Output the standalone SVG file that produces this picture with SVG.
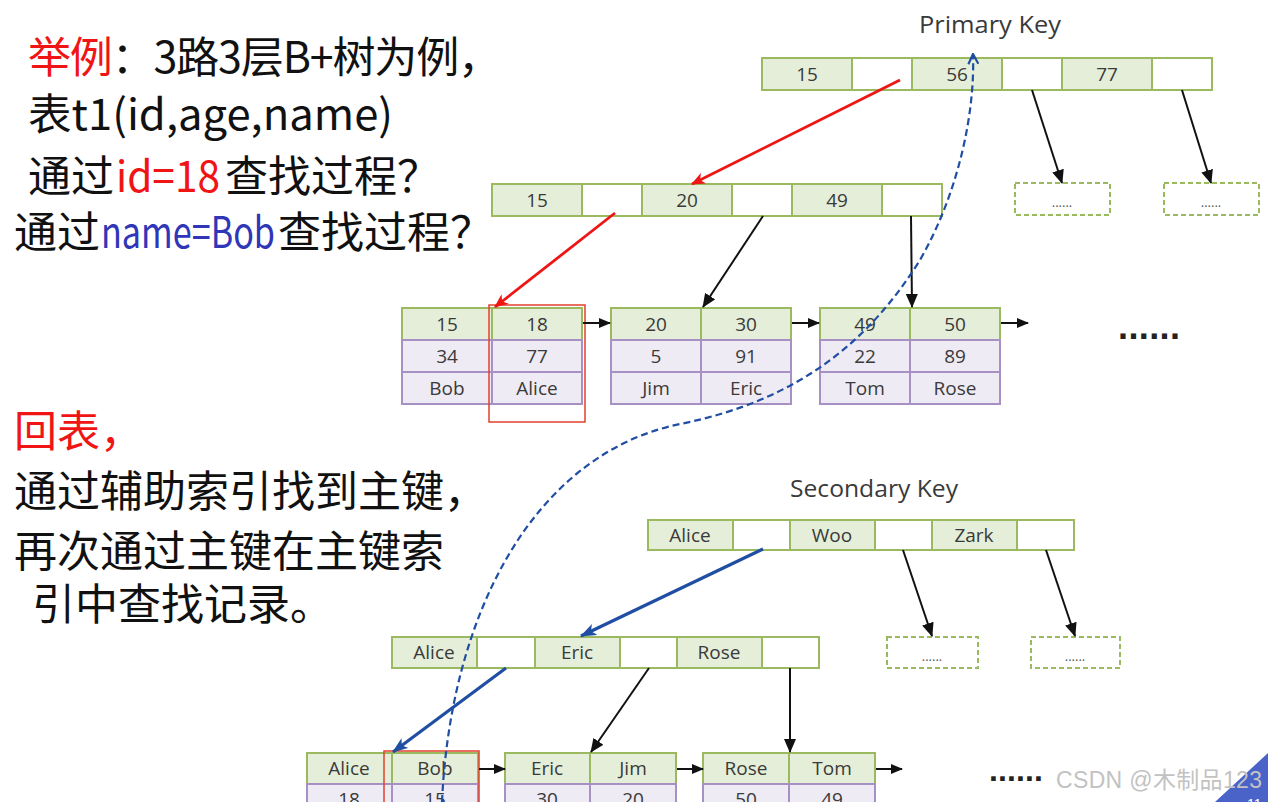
<svg xmlns="http://www.w3.org/2000/svg" width="1268" height="802" viewBox="0 0 1268 802">
<style>
.k{fill:#e5eed8;stroke:#9bba5f;stroke-width:2}
.e{fill:#ffffff;stroke:#9bba5f;stroke-width:2}
.d{fill:#efebf4;stroke:#a690c4;stroke-width:2}
.dash{fill:#ffffff;stroke:#9bba5f;stroke-width:2;stroke-dasharray:5 3}
.t{font-family:"Open Sans","Noto Sans",sans-serif;font-size:19px;fill:#3a3a3a;text-anchor:middle}
.h{font-family:"Open Sans","Noto Sans",sans-serif;font-size:24px;fill:#3a3a3a;text-anchor:middle}
.sd{font-family:"Open Sans","Noto Sans",sans-serif;font-size:13px;fill:#555;text-anchor:middle}
.dots{font-family:"Liberation Sans",Arial,sans-serif;font-weight:bold;fill:#222}
.cn{font-family:"Noto Sans CJK SC","Noto Sans",sans-serif;font-size:43px;fill:#111}
.red{fill:#f01414}
.blu{fill:#3036b8}
.ab{stroke:#111;stroke-width:2;fill:none}
.ar{stroke:#ee1515;stroke-width:2.8;fill:none}
.abl{stroke:#1f4ea3;stroke-width:3.2;fill:none}
.curve{fill:none;stroke:#1f4ea3;stroke-width:2.2;stroke-dasharray:7 4}
.rb{fill:none;stroke:#e2412c;stroke-width:1.5}
</style>
<defs>
<marker id="mk" viewBox="0 0 14 12" refX="13" refY="6" markerWidth="14" markerHeight="12" markerUnits="userSpaceOnUse" orient="auto"><path d="M0,0 L14,6 L0,12 z" fill="#111"/></marker>
<marker id="ms" viewBox="0 0 12 10" refX="11" refY="5" markerWidth="12" markerHeight="10" markerUnits="userSpaceOnUse" orient="auto"><path d="M0,0 L12,5 L0,10 z" fill="#111"/></marker>
<marker id="mr" viewBox="0 0 14 12" refX="13" refY="6" markerWidth="14" markerHeight="12" markerUnits="userSpaceOnUse" orient="auto"><path d="M0,0 L14,6 L0,12 L4,6 z" fill="#ee1515"/></marker>
<marker id="mb" viewBox="0 0 16 12" refX="15" refY="6" markerWidth="16" markerHeight="12" markerUnits="userSpaceOnUse" orient="auto"><path d="M0,0 L16,6 L0,12 L4,6 z" fill="#1f4ea3"/></marker>
<marker id="mo" viewBox="0 0 12 12" refX="11" refY="6" markerWidth="12" markerHeight="12" markerUnits="userSpaceOnUse" orient="auto"><path d="M1,1 L11,6 L1,11" fill="none" stroke="#1f4ea3" stroke-width="2.2"/></marker>
</defs>
<rect width="1268" height="802" fill="#ffffff"/>

<g id="left-text">
<text class="cn" x="28" y="73" textLength="473" lengthAdjust="spacing"><tspan class="red">举例</tspan>：3路3层B+树为例，</text>
<text class="cn" x="28" y="130" textLength="365" lengthAdjust="spacingAndGlyphs">表t1(id,age,name)</text>
<text class="cn" x="28" y="192">通过</text>
<text class="cn red" x="116" y="192" textLength="104" lengthAdjust="spacingAndGlyphs">id=18</text>
<text class="cn" x="225" y="192">查找过程？</text>
<text class="cn" x="14" y="248">通过</text>
<text class="cn blu" x="101" y="248" textLength="174" lengthAdjust="spacingAndGlyphs">name=Bob</text>
<text class="cn" x="278" y="248">查找过程？</text>
<text class="cn red" x="14" y="447">回表，</text>
<text class="cn" x="14" y="507">通过辅助索引找到主键，</text>
<text class="cn" x="14" y="567">再次通过主键在主键索</text>
<text class="cn" x="32" y="620">引中查找记录。</text>
</g>

<text class="h" x="990" y="33" textLength="142" lengthAdjust="spacingAndGlyphs">Primary Key</text>
<text class="h" x="874" y="497" textLength="168" lengthAdjust="spacingAndGlyphs">Secondary Key</text>

<g id="pk-root">
<rect class="k" x="762" y="58" width="90" height="32"/><rect class="e" x="852" y="58" width="60" height="32"/>
<rect class="k" x="912" y="58" width="90" height="32"/><rect class="e" x="1002" y="58" width="60" height="32"/>
<rect class="k" x="1062" y="58" width="90" height="32"/><rect class="e" x="1152" y="58" width="60" height="32"/>
<text class="t" x="807" y="81">15</text><text class="t" x="957" y="81">56</text><text class="t" x="1107" y="81">77</text>
</g>
<g id="pk-more1"><rect class="dash" x="1015" y="183" width="95" height="32"/><text class="sd" x="1062" y="207">......</text></g>
<g id="pk-more2"><rect class="dash" x="1164" y="183" width="95" height="32"/><text class="sd" x="1211" y="207">......</text></g>

<g id="pk-mid">
<rect class="k" x="492" y="184" width="90" height="32"/><rect class="e" x="582" y="184" width="60" height="32"/>
<rect class="k" x="642" y="184" width="90" height="32"/><rect class="e" x="732" y="184" width="60" height="32"/>
<rect class="k" x="792" y="184" width="90" height="32"/><rect class="e" x="882" y="184" width="60" height="32"/>
<text class="t" x="537" y="207">15</text><text class="t" x="687" y="207">20</text><text class="t" x="837" y="207">49</text>
</g>

<g id="pk-leaf1">
<rect class="k" x="402" y="308" width="90" height="32"/><rect class="k" x="492" y="308" width="90" height="32"/>
<rect class="d" x="402" y="340" width="90" height="32"/><rect class="d" x="492" y="340" width="90" height="32"/>
<rect class="d" x="402" y="372" width="90" height="32"/><rect class="d" x="492" y="372" width="90" height="32"/>
<text class="t" x="447" y="331">15</text><text class="t" x="537" y="331">18</text>
<text class="t" x="447" y="363">34</text><text class="t" x="537" y="363">77</text>
<text class="t" x="447" y="395">Bob</text><text class="t" x="537" y="395">Alice</text>
</g>
<g id="pk-leaf2">
<rect class="k" x="611" y="308" width="90" height="32"/><rect class="k" x="701" y="308" width="90" height="32"/>
<rect class="d" x="611" y="340" width="90" height="32"/><rect class="d" x="701" y="340" width="90" height="32"/>
<rect class="d" x="611" y="372" width="90" height="32"/><rect class="d" x="701" y="372" width="90" height="32"/>
<text class="t" x="656" y="331">20</text><text class="t" x="746" y="331">30</text>
<text class="t" x="656" y="363">5</text><text class="t" x="746" y="363">91</text>
<text class="t" x="656" y="395">Jim</text><text class="t" x="746" y="395">Eric</text>
</g>
<g id="pk-leaf3">
<rect class="k" x="820" y="308" width="90" height="32"/><rect class="k" x="910" y="308" width="90" height="32"/>
<rect class="d" x="820" y="340" width="90" height="32"/><rect class="d" x="910" y="340" width="90" height="32"/>
<rect class="d" x="820" y="372" width="90" height="32"/><rect class="d" x="910" y="372" width="90" height="32"/>
<text class="t" x="865" y="331">49</text><text class="t" x="955" y="331">50</text>
<text class="t" x="865" y="363">22</text><text class="t" x="955" y="363">89</text>
<text class="t" x="865" y="395">Tom</text><text class="t" x="955" y="395">Rose</text>
</g>
<text class="dots" x="1118" y="339" font-size="36" textLength="62" lengthAdjust="spacing">......</text>

<g id="sk-root">
<rect class="k" x="648" y="520" width="85" height="30"/><rect class="e" x="733" y="520" width="57" height="30"/>
<rect class="k" x="790" y="520" width="85" height="30"/><rect class="e" x="875" y="520" width="57" height="30"/>
<rect class="k" x="932" y="520" width="85" height="30"/><rect class="e" x="1017" y="520" width="57" height="30"/>
<text class="t" x="690" y="542">Alice</text><text class="t" x="832" y="542">Woo</text><text class="t" x="974" y="542">Zark</text>
</g>
<g id="sk-more1"><rect class="dash" x="887" y="637" width="91" height="31"/><text class="sd" x="932" y="661">......</text></g>
<g id="sk-more2"><rect class="dash" x="1031" y="637" width="89" height="31"/><text class="sd" x="1075" y="661">......</text></g>

<g id="sk-mid">
<rect class="k" x="392" y="637" width="85" height="31"/><rect class="e" x="477" y="637" width="58" height="31"/>
<rect class="k" x="535" y="637" width="85" height="31"/><rect class="e" x="620" y="637" width="57" height="31"/>
<rect class="k" x="677" y="637" width="85" height="31"/><rect class="e" x="762" y="637" width="57" height="31"/>
<text class="t" x="434" y="659">Alice</text><text class="t" x="577" y="659">Eric</text><text class="t" x="719" y="659">Rose</text>
</g>

<g id="sk-leaf1">
<rect class="k" x="307" y="753" width="85" height="31"/><rect class="k" x="392" y="753" width="86" height="31"/>
<rect class="d" x="307" y="784" width="85" height="31"/><rect class="d" x="392" y="784" width="86" height="31"/>
<text class="t" x="349" y="775">Alice</text><text class="t" x="435" y="775">Bob</text>
<text class="t" x="349" y="806">18</text><text class="t" x="435" y="806">15</text>
</g>
<g id="sk-leaf2">
<rect class="k" x="505" y="753" width="85" height="31"/><rect class="k" x="590" y="753" width="86" height="31"/>
<rect class="d" x="505" y="784" width="85" height="31"/><rect class="d" x="590" y="784" width="86" height="31"/>
<text class="t" x="547" y="775">Eric</text><text class="t" x="633" y="775">Jim</text>
<text class="t" x="547" y="806">30</text><text class="t" x="633" y="806">20</text>
</g>
<g id="sk-leaf3">
<rect class="k" x="703" y="753" width="86" height="31"/><rect class="k" x="789" y="753" width="86" height="31"/>
<rect class="d" x="703" y="784" width="86" height="31"/><rect class="d" x="789" y="784" width="86" height="31"/>
<text class="t" x="746" y="775">Rose</text><text class="t" x="832" y="775">Tom</text>
<text class="t" x="746" y="806">50</text><text class="t" x="832" y="806">49</text>
</g>
<text class="dots" x="989" y="781" font-size="32" textLength="54" lengthAdjust="spacing">......</text>

<g id="highlights">
<rect class="rb" x="489" y="305" width="96" height="117"/>
<rect class="rb" x="384" y="751" width="95" height="60"/>
</g>

<g id="connectors">
<line class="ar" x1="900" y1="80" x2="692" y2="184" marker-end="url(#mr)"/>
<line class="ab" x1="1032" y1="90" x2="1062" y2="183" marker-end="url(#mk)"/>
<line class="ab" x1="1182" y1="90" x2="1211" y2="183" marker-end="url(#mk)"/>
<line class="ar" x1="615" y1="213" x2="495" y2="307" marker-end="url(#mr)"/>
<line class="ab" x1="763" y1="216" x2="703" y2="307" marker-end="url(#mk)"/>
<line class="ab" x1="911" y1="216" x2="912" y2="307" marker-end="url(#mk)"/>
<line class="ab" x1="583" y1="323" x2="610" y2="323" marker-end="url(#ms)"/>
<line class="ab" x1="792" y1="323" x2="819" y2="323" marker-end="url(#ms)"/>
<line class="ab" x1="1001" y1="323" x2="1028" y2="323" marker-end="url(#ms)"/>

<line class="abl" x1="763" y1="549" x2="581" y2="636" marker-end="url(#mb)"/>
<line class="ab" x1="903" y1="550" x2="932" y2="636" marker-end="url(#mk)"/>
<line class="ab" x1="1046" y1="550" x2="1075" y2="636" marker-end="url(#mk)"/>
<line class="abl" x1="506" y1="668" x2="393" y2="752" marker-end="url(#mb)"/>
<line class="ab" x1="649" y1="668" x2="591" y2="752" marker-end="url(#mk)"/>
<line class="ab" x1="790" y1="668" x2="790" y2="752" marker-end="url(#mk)"/>
<line class="ab" x1="479" y1="769" x2="505" y2="769" marker-end="url(#ms)"/>
<line class="ab" x1="677" y1="769" x2="703" y2="769" marker-end="url(#ms)"/>
<line class="ab" x1="876" y1="769" x2="902" y2="769" marker-end="url(#ms)"/>

<path class="curve" d="M442,802 C450,620 530,455 680,424 C800,400 870,340 920,260 C960,190 975,110 973,54" marker-end="url(#mo)"/>
</g>

<polygon points="1215,802 1268,753 1268,802" fill="#4a63c8"/>
<text x="1247" y="809" font-family="Liberation Sans,Arial,sans-serif" font-size="14" fill="#ffffff">11</text>
<text x="1056" y="788" font-family="Liberation Sans,Noto Sans CJK SC,sans-serif" font-size="23" fill="#c2c2c2" textLength="206" lengthAdjust="spacing">CSDN @木制品123</text>
</svg>
